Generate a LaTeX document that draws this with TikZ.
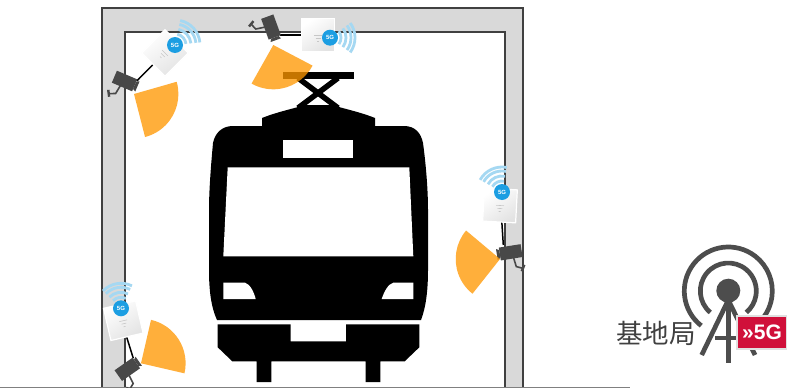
\documentclass[tikz,border=0pt]{standalone}
\usepackage{fontspec}
\setmainfont{Liberation Sans}
\newfontfamily\cjkfont{Noto Sans CJK SC}
\definecolor{wallgrey}{RGB}{217,217,217}
\definecolor{wallline}{RGB}{64,64,64}
\definecolor{coneorange}{RGB}{255,152,0}
\definecolor{camgrey}{RGB}{72,72,72}
\definecolor{wifiblue}{RGB}{165,216,242}
\definecolor{dotblue}{RGB}{28,158,226}
\definecolor{towergrey}{RGB}{77,77,77}
\definecolor{fivered}{RGB}{208,16,58}
\tikzset{
  wall/.style={fill=wallgrey,draw=wallline,line width=1.1pt},
  cone/.style={fill=coneorange,fill opacity=.77,draw=none},
  trainbody/.style={fill=black,draw=none},
  trainhole/.style={fill=white,draw=none},
  panto/.style={draw=black,line width=5.5pt},
  wire/.style={draw=black,line width=1.5pt},
  apbody/.style={left color=white,right color=black!11,draw=white,line width=1.2pt,shading angle=35},
  apwave/.style={draw=wifiblue,line width=2.8pt},
  bracket/.style={draw=camgrey,line width=1.6pt},
  tower/.style={draw=towergrey,line width=4.7pt},
}
% apex x, y, start angle, end angle, radius
\newcommand{\conesector}[5]{%
  \path[cone] (#1,#2) -- ++(#3:#5pt) arc[start angle=#3,end angle=#4,radius=#5pt] -- cycle;}
% x, y, ccw rotation, circle x, circle y, wave direction (ccw)
\newcommand{\apunit}[6]{%
  \begin{scope}[shift={(#1,#2)},rotate=#3]
    \path[apbody] (-16.5,-16.5) rectangle (16.5,16.5);
    \draw[black!22,line width=.6pt] (-4,0) -- (4,0) (-2.5,3) -- (2.5,3) (-1,6) -- (1,6);
  \end{scope}
  \foreach \r in {11,16,21,25}{%
    \draw[apwave] (#4,#5) ++(#6-36:\r pt) arc[start angle=#6-36,end angle=#6+36,radius=\r pt];}
  \fill[dotblue] (#4,#5) circle[radius=8pt];
  \node[text=white,font=\bfseries\fontsize{6}{6}\selectfont,inner sep=0pt] at (#4,#5) {5G};}
% x, y, ccw rotation, yscale
\newcommand{\camunit}[4]{%
  \begin{scope}[shift={(#1,#2)},rotate=#3,yscale=#4]
    \fill[camgrey] (-11,-6.5) rectangle (11,6.5);
    \fill[camgrey] (11,-4) -- (14,-5.5) -- (14,5.5) -- (11,4) -- cycle;
    \draw[bracket] (-2,6) -- (-3.3,15) -- (-9,17.5);
    \draw[bracket,line width=2.4pt] (-11.5,14.5) -- (-8,20.5);
  \end{scope}}
\begin{document}
\begin{tikzpicture}[x=1pt,y=-1pt]
\useasboundingbox (0,0) rectangle (787,388);
\fill[white] (0,0) rectangle (787,388);
% walls
\path[wall] (102,389) -- (102,8) -- (523,8) -- (523,389) -- (505,389) -- (505,32) -- (125,32) -- (125,389) -- cycle;
\draw[draw=gray,line width=1.2pt] (0,387.3) -- (630,387.3);
% train
\path[trainbody] (233,126) .. controls (222,126) and (215,133) .. (213,143)
  .. controls (211,165) and (209,190) .. (209,210) -- (209,270)
  .. controls (209,290) and (211,307) .. (217,320) -- (421,320)
  .. controls (426,307) and (428,290) .. (428,270) -- (428,210)
  .. controls (428,190) and (426,165) .. (423,143)
  .. controls (421,133) and (415,126) .. (404,126)
  -- (375,126) -- (375,118) .. controls (360,112) and (345,109) .. (332,105)
  -- (305,105) .. controls (292,109) and (277,112) .. (262,118) -- (262,126) -- cycle;
\path[trainhole] (283.3,140) rectangle (353.3,157.7);
\path[trainhole] (227.7,167.3) -- (409.3,167.3) -- (413.3,256.3) -- (223.3,256.3) -- cycle;
\path[trainhole] (223.3,282.7) -- (245,282.7) .. controls (250,284) and (254,292) .. (255.7,299) -- (223.3,299) -- cycle;
\path[trainhole] (413.3,282.7) -- (393.3,282.7) .. controls (388,284) and (384,292) .. (381.7,299) -- (413.3,299) -- cycle;
\path[trainbody] (217.7,324.3) -- (290.7,324.3) -- (290.7,341.3) -- (346,341.3) -- (346,324.3) -- (419.3,324.3)
  -- (419.3,347.3) -- (404.7,361.3) -- (380.3,361.3) -- (380.3,382) -- (365.7,382) -- (365.7,361.3)
  -- (271.3,361.3) -- (271.3,382) -- (256.7,382) -- (256.7,361.3) -- (232.3,361.3) -- (217.7,347.3) -- cycle;
% pantograph
\fill[black] (282.7,72.3) rectangle (354.3,79.3);
\draw[panto] (298,78) -- (338,108);
\draw[panto] (338,78) -- (298,108);
% wires
\coordinate (apA) at (154.3,63.3); \coordinate (camA) at (136.7,81);
\coordinate (apB) at (303,35);     \coordinate (camB) at (280,35);
\coordinate (apC) at (126,335);    \coordinate (camC) at (133.3,358.3);
\coordinate (apD) at (501.7,220);  \coordinate (camD) at (503.3,245);
\draw[wire] (apA) -- (camA);
\draw[wire] (apB) -- (camB);
\draw[wire] (apC) -- (camC);
\draw[wire] (apD) -- (camD);
% cameras
\camunit{124.5}{81}{-23}{1}
\camunit{271}{27}{-70}{1}
\camunit{127.3}{369.3}{35}{1}
\camunit{510.7}{252.3}{-171}{-1}
% access points
\apunit{165}{53}{-45}{175}{45}{42}
\apunit{318}{35}{0}{330}{37.7}{0}
\apunit{500}{205.5}{-3}{502}{192}{115}
\apunit{123.3}{320.7}{13}{121}{308.3}{100}
% cones
\conesector{134}{94}{16}{-75.6}{44.4}
\conesector{273.3}{45}{-27.7}{-119.4}{44.3}
\conesector{141}{363.3}{77}{-13}{44.6}
\conesector{500}{259}{140}{231.6}{44.3}
% base station
\draw[tower] (728.3,291) ++(232:44pt) arc[start angle=232,end angle=-52,radius=44pt];
\draw[tower] (728.3,291) ++(230:28pt) arc[start angle=230,end angle=-50,radius=28pt];
\fill[towergrey] (728.3,290.7) circle[radius=12pt];
\coordinate (towertop) at (728.3,300);
\coordinate (footL) at (701.7,355);
\coordinate (footR) at (755,355);
\coordinate (footM) at (728.3,362.7);
\draw[tower] (towertop) -- (footL);
\draw[tower] (towertop) -- (footR);
\draw[tower] (towertop) -- (footM);
\draw[tower] (715,338) -- (742,338);
\node[fill=fivered,draw=black!12,line width=1.2pt,minimum width=50pt,minimum height=33pt,inner sep=0pt,text=white,font=\bfseries\fontsize{21}{21}\selectfont] (five) at (762,332.5) {»5G};
\node[font=\cjkfont\fontsize{26.5}{27}\selectfont,text=wallline,inner sep=0pt] (label) at (656,333) {基地局};
\end{tikzpicture}
\end{document}
